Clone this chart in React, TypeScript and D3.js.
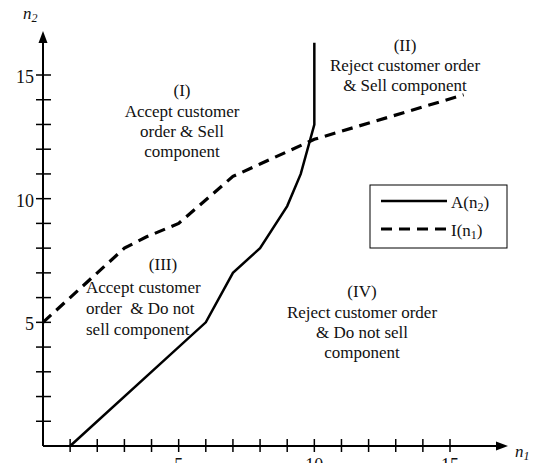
import * as d3 from 'd3';

// A(n2) boundary (solid)
const aN1 = [1, 6, 7, 8, 9, 9.5, 10, 10];
const aN2 = [0, 5, 7, 8, 9.7, 11, 13, 16.3];

// I(n1) boundary (dashed)
const iN1 = [0, 3, 3.8, 5, 7, 8, 9, 10, 15.5];
const iN2 = [5, 8, 8.45, 9, 10.9, 11.4, 11.9, 12.4, 14.2];

const xTickLabels = [5, 10, 15];
const yTickLabels = [5, 10, 15];

const W = 541;
const H = 463;
const FONT = "'Liberation Serif', 'Times New Roman', Times, serif";

export default function App() {
  const x = d3.scaleLinear().domain([0, 15]).range([43, 450]);
  const y = d3.scaleLinear().domain([0, 15]).range([446, 75]);

  const line = d3.line<[number, number]>()
    .x(d => x(d[0]))
    .y(d => y(d[1]));

  const aPts = aN1.map((v, i) => [v, aN2[i]] as [number, number]);
  const iPts = iN1.map((v, i) => [v, iN2[i]] as [number, number]);

  const ticks = d3.range(1, 16);
  const x0 = x(0);
  const y0 = y(0);

  return (
    <div style={{ position: 'fixed', left: 0, top: 0 }}>
      <svg width={W} height={H} style={{ display: 'block', background: '#fff', fontFamily: FONT, fontSize: 17 }} fill="#111">
        {/* axes */}
        <line x1={x0} y1={y0} x2={x0} y2={40} stroke="#000" strokeWidth={2} />
        <path d={`M${x0},31 L${x0 - 4.5},43 L${x0 + 4.5},43 Z`} fill="#000" />
        <line x1={x0} y1={y0} x2={498} y2={y0} stroke="#000" strokeWidth={2} />
        <path d={`M508,${y0} L496,${y0 - 4.5} L496,${y0 + 4.5} Z`} fill="#000" />

        {ticks.map(t => (
          <line key={'yt' + t} x1={x0 - 7} x2={x0 + 8} y1={y(t)} y2={y(t)} stroke="#000" strokeWidth={1.5} />
        ))}
        {ticks.map(t => (
          <line key={'xt' + t} x1={x(t)} x2={x(t)} y1={y0 - 7} y2={y0 + 6} stroke="#000" strokeWidth={1.5} />
        ))}
        {yTickLabels.map(t => (
          <text key={'yl' + t} x={x0 - 9} y={y(t) + 8} textAnchor="end" style={{ fontSize: 18 }}>{t}</text>
        ))}
        {xTickLabels.map(t => (
          <text key={'xl' + t} x={x(t)} y={y0 + 25} textAnchor="middle" style={{ fontSize: 18 }}>{t}</text>
        ))}

        {/* axis titles */}
        <text x={23} y={19} style={{ fontStyle: 'italic' }}>
          n<tspan dy={3} style={{ fontSize: 12 }}>2</tspan>
        </text>
        <text x={515} y={457} style={{ fontStyle: 'italic' }}>
          n<tspan dy={3} style={{ fontSize: 12 }}>1</tspan>
        </text>

        {/* boundaries */}
        <path d={line(aPts) ?? ''} fill="none" stroke="#000" strokeWidth={2.5} />
        <path d={line(iPts) ?? ''} fill="none" stroke="#000" strokeWidth={3.2} strokeDasharray="11,7" />

        {/* region labels */}
        <g textAnchor="middle">
          <text x={182} y={96}>(I)</text>
          <text x={182} y={117}>Accept customer</text>
          <text x={182} y={137}>order &amp; Sell</text>
          <text x={182} y={157}>component</text>

          <text x={405} y={51}>(II)</text>
          <text x={405} y={71}>Reject customer order</text>
          <text x={405} y={91}>&amp; Sell component</text>

          <text x={163} y={270}>(III)</text>

          <text x={362} y={297}>(IV)</text>
          <text x={362} y={318}>Reject customer order</text>
          <text x={362} y={338}>&amp; Do not sell</text>
          <text x={362} y={358}>component</text>
        </g>
        <g>
          <text x={86} y={293}>Accept customer</text>
          <text x={86} y={314} style={{ whiteSpace: 'pre' }}>{'order  & Do not'}</text>
          <text x={86} y={335}>sell component</text>
        </g>

        {/* legend */}
        <rect x={370} y={185} width={137} height={63} fill="#fff" stroke="#000" strokeWidth={1} />
        <line x1={381} x2={447} y1={201} y2={201} stroke="#000" strokeWidth={2.5} />
        <text x={451} y={208}>
          A(n<tspan dy={3} style={{ fontSize: 12 }}>2</tspan><tspan dy={-3}>)</tspan>
        </text>
        <line x1={381} x2={447} y1={229} y2={229} stroke="#000" strokeWidth={3.2} strokeDasharray="11,7" />
        <text x={451} y={236}>
          I(n<tspan dy={3} style={{ fontSize: 12 }}>1</tspan><tspan dy={-3}>)</tspan>
        </text>
      </svg>
    </div>
  );
}
